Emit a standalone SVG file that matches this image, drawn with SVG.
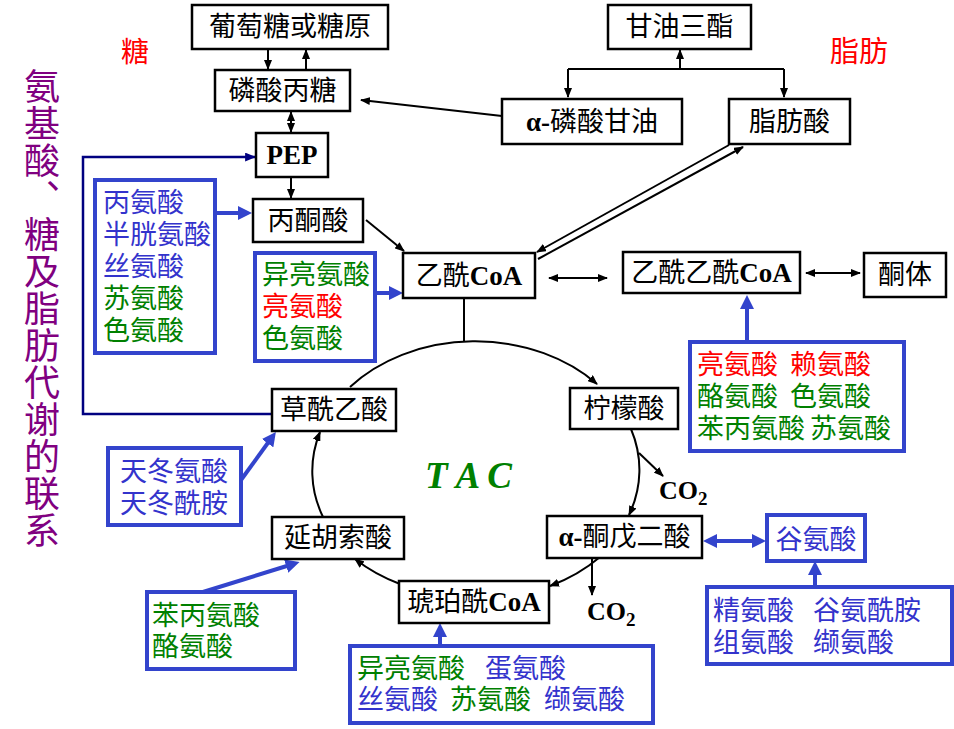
<svg xmlns="http://www.w3.org/2000/svg" width="954" height="729" viewBox="0 0 954 729">
<defs>
<style>
.nb{fill:#fff;stroke:#000;stroke-width:2.5}
.bb{fill:#fff;stroke:#3344cc;stroke-width:4}
.nt{font-family:"Liberation Serif","Noto Sans CJK SC",serif;font-size:27px;fill:#000;text-anchor:middle;dominant-baseline:central}
.lat{font-weight:bold}
.ct{font-family:"Liberation Sans","Noto Sans CJK SC",sans-serif;font-size:27px;dominant-baseline:central}
.blue{fill:#3333cc}.green{fill:#008000}.red{fill:#ff0000}
.k{fill:none;stroke:#000;stroke-width:2}
.kb{fill:none;stroke:#3344cc;stroke-width:4}
.nv{fill:none;stroke:#000080;stroke-width:2.5}
.co{font-family:"Liberation Serif",serif;font-weight:bold;font-size:26px;fill:#000}
</style>
<marker id="ak" viewBox="0 0 10 8" refX="9" refY="4" markerWidth="10" markerHeight="8" markerUnits="userSpaceOnUse" orient="auto-start-reverse"><path d="M0,0 L10,4 L0,8 z" fill="#000"/></marker>
<marker id="an" viewBox="0 0 10 8" refX="9" refY="4" markerWidth="11" markerHeight="9" markerUnits="userSpaceOnUse" orient="auto-start-reverse"><path d="M0,0 L10,4 L0,8 z" fill="#000080"/></marker>
<marker id="ab" viewBox="0 0 14 14" refX="4" refY="7" markerWidth="14" markerHeight="14" markerUnits="userSpaceOnUse" orient="auto-start-reverse"><path d="M0,0 L14,7 L0,14 z" fill="#3344cc"/></marker>
</defs>
<rect width="954" height="729" fill="#fff"/>

<g id="connectors">
<path class="k" d="M268 49 V69" marker-end="url(#ak)"/>
<path class="k" d="M306 70 V50" marker-end="url(#ak)"/>
<path class="k" d="M291 112 V132" marker-start="url(#ak)" marker-end="url(#ak)"/>
<path class="k" d="M291 177 V198" marker-end="url(#ak)"/>
<path class="k" d="M366 220 L404 251" marker-end="url(#ak)"/>
<path class="k" d="M502 116 L361 100" marker-end="url(#ak)"/>
<path class="k" d="M680 69 V50" marker-end="url(#ak)"/>
<path class="k" d="M568 69 H784"/>
<path class="k" d="M568 69 V97" marker-end="url(#ak)"/>
<path class="k" d="M784 69 V97" marker-end="url(#ak)"/>
<path class="k" d="M729 145 L537 252" marker-end="url(#ak)"/>
<path class="k" d="M538 259 L743 147" marker-end="url(#ak)"/>
<path class="k" d="M549 278 H607" marker-start="url(#ak)" marker-end="url(#ak)"/>
<path class="k" d="M806 273 H860" marker-start="url(#ak)" marker-end="url(#ak)"/>
<path class="k" d="M464 298 V341"/>
<path class="k" d="M350 387 A164 129 0 0 1 597 384" marker-end="url(#ak)"/>
<path class="k" d="M631 429 A164 129 0 0 1 629 515" marker-end="url(#ak)"/>
<path class="k" d="M600 557 A164 129 0 0 1 550 586" marker-end="url(#ak)"/>
<path class="k" d="M400 584 A164 129 0 0 1 355 559" marker-end="url(#ak)"/>
<path class="k" d="M323 517 A164 129 0 0 1 320 432" marker-end="url(#ak)"/>
<path class="k" d="M639 453 L663 476" marker-end="url(#ak)"/>
<path class="k" d="M592 558 V595" marker-end="url(#ak)"/>
<path class="nv" d="M272 414 H83 V157 H255" marker-end="url(#an)"/>
<path class="kb" d="M215 213 H242" marker-end="url(#ab)"/>
<path class="kb" d="M375 293 H393" marker-end="url(#ab)"/>
<path class="kb" d="M747 342 V305" marker-end="url(#ab)"/>
<path class="kb" d="M241 480 L270 440" marker-end="url(#ab)"/>
<path class="kb" d="M203 592 L290 565" marker-end="url(#ab)"/>
<path class="kb" d="M440 646 V633" marker-end="url(#ab)"/>
<path class="kb" d="M815 587 V571" marker-end="url(#ab)"/>
<path class="kb" d="M713 541 H756" marker-start="url(#ab)" marker-end="url(#ab)"/>
</g>

<g id="title">
<text x="42" y="68" writing-mode="vertical-rl" font-family="Noto Sans CJK SC, sans-serif" font-size="36" letter-spacing="1" fill="#800080">氨基酸、糖及脂肪代谢的联系</text>
<text x="135" y="52" class="ct red" text-anchor="middle" style="font-size:28px">糖</text>
<text x="859" y="52" class="ct red" text-anchor="middle" style="font-size:29px">脂肪</text>
</g>

<g id="n-glucose"><rect class="nb" x="192" y="5" width="196" height="44"/><text class="nt" x="290" y="27">葡萄糖或糖原</text></g>
<g id="n-triose"><rect class="nb" x="215" y="70" width="135" height="41"/><text class="nt" x="282.5" y="90.5">磷酸丙糖</text></g>
<g id="n-pep"><rect class="nb" x="256" y="133" width="72" height="44"/><text class="nt lat" x="292" y="155">PEP</text></g>
<g id="n-tg"><rect class="nb" x="608" y="5" width="143" height="44"/><text class="nt" x="679.5" y="27">甘油三酯</text></g>
<g id="n-glycerol"><rect class="nb" x="502" y="99" width="180" height="45"/><text class="nt" x="592" y="121.5"><tspan class="lat">α-</tspan>磷酸甘油</text></g>
<g id="n-fa"><rect class="nb" x="729" y="99" width="121" height="45"/><text class="nt" x="789.5" y="121.5">脂肪酸</text></g>
<g id="n-pyruvate"><rect class="nb" x="253" y="199" width="110" height="43"/><text class="nt" x="308" y="220.5">丙酮酸</text></g>
<g id="n-acetylcoa"><rect class="nb" x="403" y="253" width="132" height="45"/><text class="nt" x="469" y="275.5">乙酰<tspan class="lat">CoA</tspan></text></g>
<g id="n-acetoacetylcoa"><rect class="nb" x="623" y="252" width="177" height="41"/><text class="nt" x="711.5" y="272.5">乙酰乙酰<tspan class="lat">CoA</tspan></text></g>
<g id="n-ketone"><rect class="nb" x="864" y="253" width="82" height="44"/><text class="nt" x="905" y="275">酮体</text></g>
<g id="n-citrate"><rect class="nb" x="570" y="388" width="108" height="41"/><text class="nt" x="624" y="408.5">柠檬酸</text></g>
<g id="n-oxaloacetate"><rect class="nb" x="272" y="389" width="124" height="42"/><text class="nt" x="334" y="410">草酰乙酸</text></g>
<g id="n-akg"><rect class="nb" x="547" y="516" width="155" height="42"/><text class="nt" x="624.5" y="537"><tspan class="lat">α-</tspan>酮戊二酸</text></g>
<g id="n-fumarate"><rect class="nb" x="272" y="517" width="132" height="42"/><text class="nt" x="338" y="538">延胡索酸</text></g>
<g id="n-succinylcoa"><rect class="nb" x="399" y="581" width="150" height="42"/><text class="nt" x="474" y="602">琥珀酰<tspan class="lat">CoA</tspan></text></g>
<g id="n-glu"><rect class="bb" x="767" y="515" width="98" height="46"/><text class="ct blue" x="816" y="540" text-anchor="middle">谷氨酸</text></g>

<g id="tac"><text x="425" y="488" font-family="Liberation Serif, serif" font-style="italic" font-weight="bold" font-size="37" fill="#008000">T A C</text></g>
<g id="co2a"><text class="co" x="659" y="499">CO<tspan font-size="19" dy="6">2</tspan></text></g>
<g id="co2b"><text class="co" x="587" y="620">CO<tspan font-size="19" dy="6">2</tspan></text></g>

<g id="aa-pyruvate"><rect class="bb" x="95" y="180" width="120" height="173"/>
<text class="ct"><tspan class="blue" x="103" y="203">丙氨酸</tspan><tspan class="blue" x="103" y="235">半胱氨酸</tspan><tspan class="blue" x="103" y="267">丝氨酸</tspan><tspan class="green" x="103" y="299">苏氨酸</tspan><tspan class="green" x="103" y="331">色氨酸</tspan></text></g>

<g id="aa-acetylcoa"><rect class="bb" x="255" y="253" width="120" height="108"/>
<text class="ct"><tspan class="green" x="262" y="275">异亮氨酸</tspan><tspan class="red" x="262" y="307">亮氨酸</tspan><tspan class="green" x="262" y="339">色氨酸</tspan></text></g>

<g id="aa-acetoacetyl"><rect class="bb" x="690" y="342" width="214" height="109"/>
<text class="ct"><tspan class="red" x="697" y="365">亮氨酸</tspan><tspan class="red" x="790" y="365">赖氨酸</tspan><tspan class="green" x="697" y="397">酪氨酸</tspan><tspan class="green" x="790" y="397">色氨酸</tspan><tspan class="green" x="697" y="429">苯丙氨酸</tspan><tspan class="green" x="810" y="429">苏氨酸</tspan></text></g>

<g id="aa-oxaloacetate"><rect class="bb" x="108" y="448" width="133" height="77"/>
<text class="ct blue"><tspan x="120" y="472">天冬氨酸</tspan><tspan x="120" y="504">天冬酰胺</tspan></text></g>

<g id="aa-fumarate"><rect class="bb" x="147" y="592" width="148" height="77"/>
<text class="ct green"><tspan x="152" y="616">苯丙氨酸</tspan><tspan x="152" y="647">酪氨酸</tspan></text></g>

<g id="aa-succinyl"><rect class="bb" x="350" y="646" width="303" height="77"/>
<text class="ct"><tspan class="green" x="357" y="669">异亮氨酸</tspan><tspan class="blue" x="485" y="669">蛋氨酸</tspan><tspan class="blue" x="357" y="700">丝氨酸</tspan><tspan class="green" x="450" y="700">苏氨酸</tspan><tspan class="blue" x="544" y="700">缬氨酸</tspan></text></g>

<g id="aa-glu"><rect class="bb" x="707" y="587" width="245" height="77"/>
<text class="ct blue"><tspan x="713" y="611">精氨酸</tspan><tspan x="813" y="611">谷氨酰胺</tspan><tspan x="713" y="643">组氨酸</tspan><tspan x="813" y="643">缬氨酸</tspan></text></g>
</svg>
